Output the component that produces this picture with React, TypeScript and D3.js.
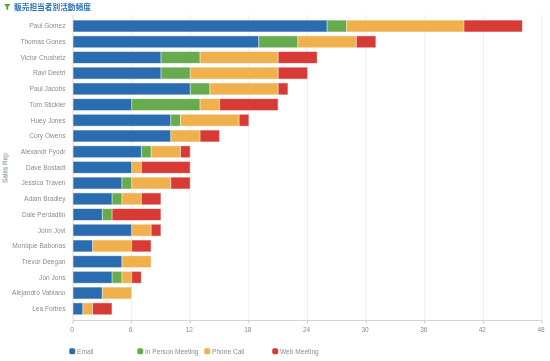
import React from "react";
import * as d3 from "d3";

const title = "販売担当者別活動頻度";
const axisTitle = "Sales Rep";
const reps = ["Paul Gomez","Thomas Gones","Victor Crushetz","Ravi Deetri","Paul Jacobs","Tom Stickler","Huey Jones","Cory Owens","Alexandr Fyodr","Dave Bostadt","Jessica Traven","Adam Bradley","Dale Perdadtin","John Jovi","Monique Babonas","Trevor Deegan","Jon Jons","Alejandro Vabiano","Lea Forbes"];
const seriesNames = ["Email","In Person Meeting","Phone Call","Web Meeting"];
const colors = ["#2b6cb0","#68ab4f","#f0b04c","#d83a36"];
const email = [26,19,9,9,12,6,10,10,7,6,5,4,3,6,2,5,4,3,1];
const inPerson = [2,4,4,3,2,7,1,0,1,0,1,1,1,0,0,0,1,0,0];
const phone = [12,6,8,9,7,2,6,3,3,1,4,2,0,2,4,3,1,3,1];
const web = [6,2,4,3,1,6,1,2,1,5,2,2,5,1,2,0,1,0,2];
const xTicks = [0,6,12,18,24,30,36,42,48];
const legendX = [69,137,204,272];

export default function App() {
  const rows = reps.map((r, i) => ({ rep: r, Email: email[i], "In Person Meeting": inPerson[i], "Phone Call": phone[i], "Web Meeting": web[i] }));
  const stack = d3.stack<any>().keys(seriesNames)(rows);
  const x = d3.scaleLinear().domain([0, 48]).range([73, 542]);
  const y = d3.scaleBand().domain(reps).range([18.2, 316.6]).paddingInner(0.3).paddingOuter(0.15);
  const font = "'Liberation Sans', Arial, sans-serif";
  const axisY = 320.5;
  const labelColor = "#8c8c8c";
  return (
    <svg width={550} height={361} style={{ position: "absolute", left: 0, top: 0, fontFamily: font }}>
      <defs>
        <filter id="soft" x="-5%" y="-5%" width="110%" height="110%">
          <feGaussianBlur stdDeviation="0.3" />
        </filter>
      </defs>
      <path d="M4 4h6.5l-2.3 3v3.2l-1.9-1v-2.2z" fill="#5da83c" />
      <text x={14} y={9.6} fontSize={7.7} fill="#2a6fb5" fontFamily="'Noto Sans CJK JP', sans-serif" fontWeight={700} filter="url(#soft)">{title}</text>
      {xTicks.map(t => (
        <g key={t}>
          <line x1={x(t)} x2={x(t)} y1={15} y2={axisY} stroke="#eeeeee" />
          <line x1={x(t)} x2={x(t)} y1={axisY} y2={axisY + 3} stroke="#c8c8c8" />
          <text x={x(t) - 1} y={331.8} fontSize={6.5} fill={labelColor} textAnchor="middle" filter="url(#soft)">{t}</text>
        </g>
      ))}
      <line x1={73} x2={542} y1={axisY} y2={axisY} stroke="#d4d4d4" />
      <line x1={73} x2={73} y1={15} y2={axisY} stroke="#e4e4e4" />
      {stack.map((s, k) => s.map((d, i) => d[1] > d[0] ? (
        <rect key={k + "-" + i} x={x(d[0]) + 0.5} y={y(reps[i])!} width={x(d[1]) - x(d[0]) - 1} height={y.bandwidth()} fill={colors[k]} stroke={colors[k]} strokeOpacity={0.4} strokeWidth={1} />
      ) : null))}
      {reps.map(r => (
        <text key={r} x={65.5} y={y(r)! + y.bandwidth() / 2 + 2.3} fontSize={6.6} fill={labelColor} textAnchor="end" filter="url(#soft)">{r}</text>
      ))}
      <text transform="translate(7.5,168) rotate(-90)" fontSize={6.5} fill="#6f7f8f" textAnchor="middle" filter="url(#soft)">{axisTitle}</text>
      {seriesNames.map((n, i) => (
        <g key={n}>
          <rect x={legendX[i] + 0.5} y={348.5} width={5.5} height={5.5} rx={1.5} fill={colors[i]} stroke={colors[i]} strokeOpacity={0.5} />
          <text x={legendX[i] + 8} y={354} fontSize={6.6} fill={labelColor} filter="url(#soft)">{n}</text>
        </g>
      ))}
    </svg>
  );
}
